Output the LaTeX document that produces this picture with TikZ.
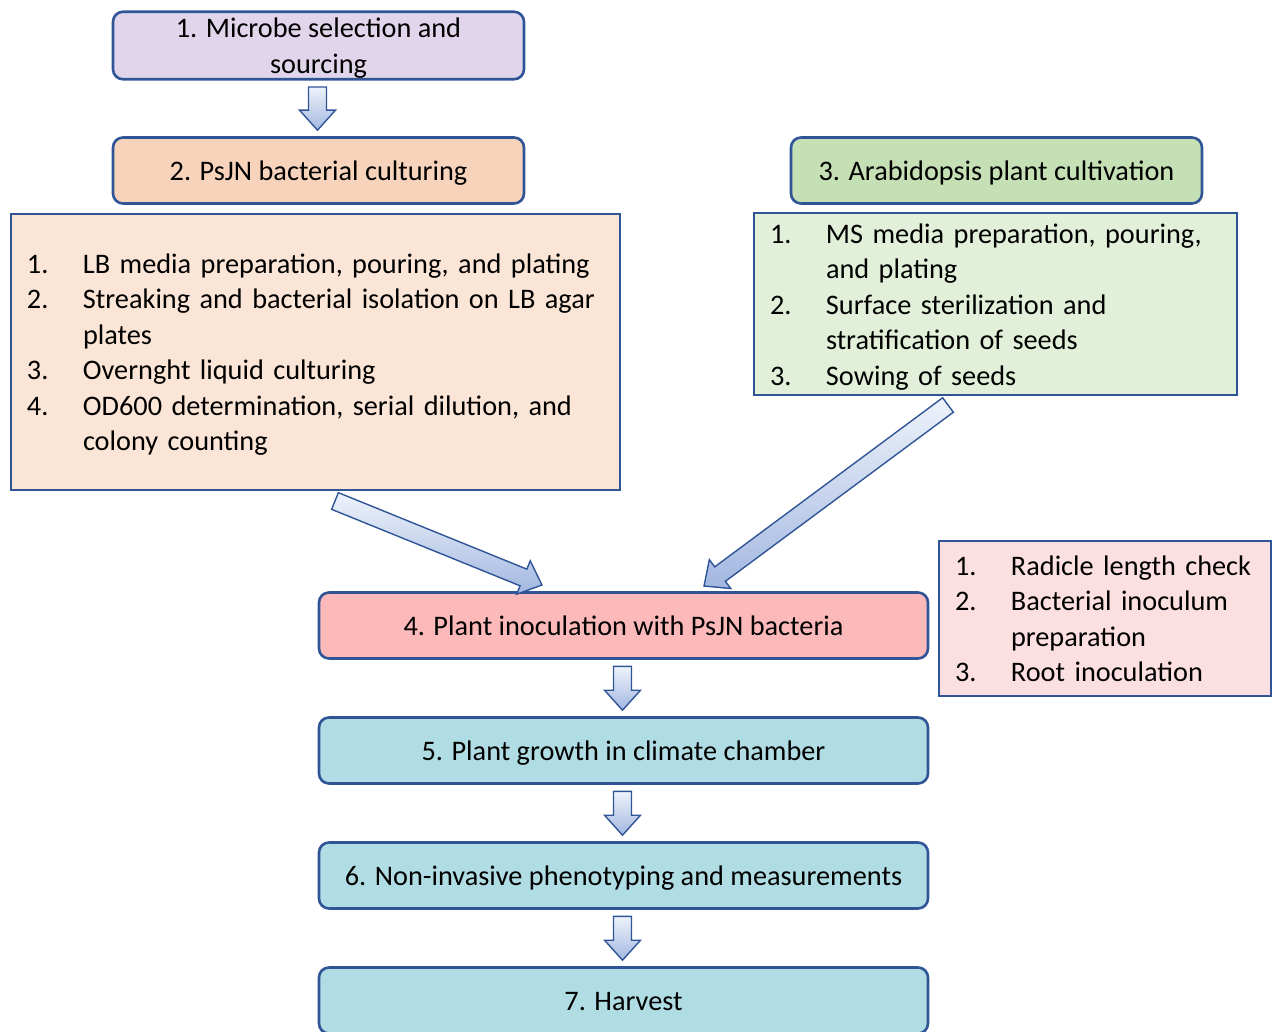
\documentclass[tikz,border=0pt]{standalone}
\usepackage{fontspec}
\setmainfont{Carlito}
\usetikzlibrary{calc}

\definecolor{edge}{HTML}{2F5597}
\definecolor{lilac}{HTML}{E1D5EC}
\definecolor{peach}{HTML}{F8D3BC}
\definecolor{peachlt}{HTML}{FBE5D6}
\definecolor{green1}{HTML}{C5E0B4}
\definecolor{green2}{HTML}{E2F0D9}
\definecolor{rose1}{HTML}{FCB9BA}
\definecolor{rose2}{HTML}{FCDFE0}
\definecolor{teal1}{HTML}{B0DCE3}
\definecolor{arrlt}{HTML}{EEF3FB}
\definecolor{arrdk}{HTML}{A2B7E0}

% block arrow from #1 to #2
\newcommand{\blockarr}[2]{%
  \coordinate (hb) at ($(#2)!20pt!(#1)$);
  \path[blockarrow] ($(#1)!9pt!90:(#2)$) -- ($(hb)!9pt!-90:(#1)$) -- ($(hb)!18pt!-90:(#1)$) -- (#2)
    -- ($(hb)!18pt!90:(#1)$) -- ($(hb)!9pt!90:(#1)$) -- ($(#1)!9pt!-90:(#2)$) -- cycle;}
\newcommand{\steps}[1]{\noindent\raisebox{-3pt}[\height][\depth]{\begin{tabular}{@{}p{56pt}@{}l@{}}#1\end{tabular}}}
\newcommand{\lowstrut}{\rule[-6pt]{0pt}{32pt}}

\begin{document}
\begin{tikzpicture}[x=1pt,y=-1pt,
  stepbox/.style={draw=edge,line width=2.6pt,rounded corners=10pt,minimum width=411pt,minimum height=66pt,inner sep=0pt,align=center,font=\fontsize{28.3}{35.5}\selectfont,execute at begin node={\lowstrut}},
  listbox/.style={draw=edge,line width=1.8pt,inner xsep=16pt,inner ysep=0pt,align=left,font=\fontsize{28.3}{35.5}\selectfont},
  blockarrow/.style={draw=edge,line width=1.4pt,line join=miter,top color=arrlt,bottom color=arrdk}]

  \clip (0,0) rectangle (1277,1032);

  \node[stepbox,fill=lilac,execute at begin node={}] (b1) at (318.5,45.5) {\lowstrut 1. Microbe selection and\\sourcing}; %box 1
  \node[stepbox,fill=peach] (b2) at (318.5,170.5) {2. PsJN bacterial culturing}; %box 2
  \node[stepbox,fill=green1] (b3) at (996.5,170.5) {3. Arabidopsis plant cultivation}; %box 3
  \node[stepbox,fill=rose1,minimum width=609pt] (b4) at (623.5,625.5) {4. Plant inoculation with PsJN bacteria}; %box 4
  \node[stepbox,fill=teal1,minimum width=609pt] (b5) at (623.5,750.5) {5. Plant growth in climate chamber}; %box 5
  \node[stepbox,fill=teal1,minimum width=609pt] (b6) at (623.5,875.5) {6. Non-invasive phenotyping and measurements}; %box 6
  \node[stepbox,fill=teal1,minimum width=609pt] (b7) at (623.5,1000.5) {7. Harvest}; %box 7

  % lists
  \node[listbox,fill=peachlt,text width=577pt,minimum height=276pt] (l2) at (315.5,352) {\steps{
    1. & LB media preparation, pouring, and plating\\
    2. & Streaking and bacterial isolation on LB agar\\
       & plates\\
    3. & Overnght liquid culturing\\
    4. & OD600 determination, serial dilution, and\\
       & colony counting}};
  \node[listbox,fill=green2,text width=451pt,minimum height=182pt] (l3) at (995.5,304) {\steps{
    1. & MS media preparation, pouring,\\
       & and plating\\
    2. & Surface sterilization and\\
       & stratification of seeds\\
    3. & Sowing of seeds}};
  \node[listbox,fill=rose2,text width=300pt,minimum height=155pt] (l4) at (1105,618.5) {\steps{
    1. & Radicle length check\\
    2. & Bacterial inoculum\\
       & preparation\\
    3. & Root inoculation}};

  % arrows
  \foreach \a/\b in {b1/b2,b4/b5,b5/b6,b6/b7} {
    \coordinate (s) at ($(\a.south)+(-1,6.5)$);
    \coordinate (e) at ($(\b.north)+(-1,-6)$);
    \blockarr{s}{e}
  }
  \coordinate (a2s) at (335,501); %tail
  \coordinate (a2e) at (542,585); %tip
  \coordinate (a3s) at (948,405); %tail
  \coordinate (a3e) at (704,586); %tip
  \blockarr{a2s}{a2e}
  \blockarr{a3s}{a3e}

\end{tikzpicture}
\end{document}
